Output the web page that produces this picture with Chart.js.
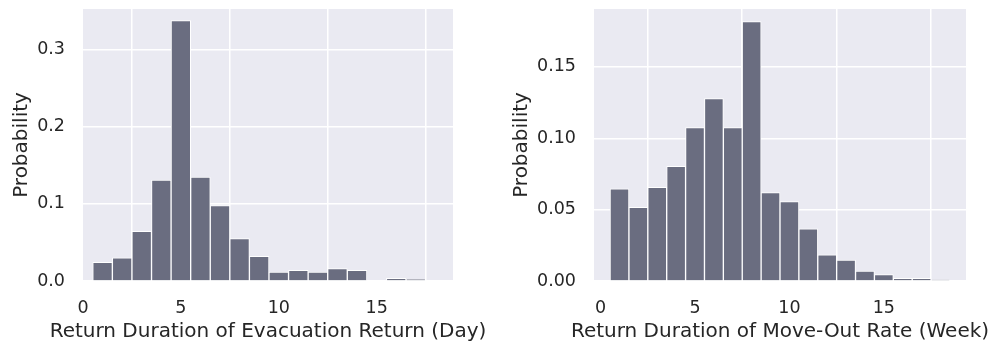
<!DOCTYPE html>
<html>
<head>
<meta charset="utf-8">
<script src="https://cdn.jsdelivr.net/npm/chart.js@4.4.1/dist/chart.umd.min.js"></script>
<style>
  html, body { margin: 0; padding: 0; background: #ffffff; }
  #wrap { position: relative; width: 995px; height: 345px; }
  canvas { position: absolute; top: 0; }
  #c1 { left: 0; }
  #c2 { left: 500px; }
</style>
</head>
<body>
<div id="wrap">
  <canvas id="c1" width="495" height="345"></canvas>
  <canvas id="c2" width="495" height="345"></canvas>
</div>
<script>
// Bin centres (width 1) and probabilities for each histogram
const evacDays = [1, 2, 3, 4, 5, 6, 7, 8, 9, 10, 11, 12, 13, 14, 15, 16, 17];
const evacProb = [0.0243, 0.0300, 0.0643, 0.1310, 0.3380, 0.1350, 0.0980, 0.0550, 0.0320, 0.0117, 0.0140, 0.0115, 0.0160, 0.0140, null, 0.0035, 0.0022];

const moveWeeks = [1, 2, 3, 4, 5, 6, 7, 8, 9, 10, 11, 12, 13, 14, 15, 16, 17, 18];
const moveProb = [0.0645, 0.0516, 0.0657, 0.0804, 0.1075, 0.1278, 0.1075, 0.1818, 0.0619, 0.0556, 0.0365, 0.0184, 0.0146, 0.0070, 0.0045, 0.0019, 0.0019, 0.0007];

const evacYTicks = [0.0, 0.1, 0.2, 0.3];
const moveYTicks = [0.00, 0.05, 0.10, 0.15];
const xTickStep = 5;

const FONT = 'DejaVu Sans';
const TEXT = '#262626';
const PANEL = '#eaeaf2';
const BAR = 'rgb(106,109,128)';
const TICK_SIZE = 17.5;
const TITLE_SIZE = 20;

const panelBg = {
  id: 'panelBg',
  beforeDraw(chart) {
    const a = chart.chartArea;
    const ctx = chart.ctx;
    ctx.save();
    ctx.fillStyle = PANEL;
    ctx.fillRect(a.left, a.top, a.right - a.left, a.bottom - a.top);
    ctx.restore();
  }
};

// x-axis caption, drawn at full width (may extend past the plot area)
const xCaption = {
  id: 'xCaption',
  afterDraw(chart, args, o) {
    const a = chart.chartArea;
    const ctx = chart.ctx;
    ctx.save();
    ctx.fillStyle = TEXT;
    ctx.font = TITLE_SIZE + 'px "' + FONT + '"';
    ctx.textAlign = 'center';
    ctx.textBaseline = 'alphabetic';
    ctx.fillText(o.text, (a.left + a.right) / 2, o.baseline);
    ctx.restore();
  }
};

function makeHist(canvasId, xs, ys, opts) {
  const points = xs.map((x, i) => ({ x: x, y: ys[i] }));
  return new Chart(document.getElementById(canvasId), {
    type: 'bar',
    data: {
      datasets: [{
        data: points,
        backgroundColor: BAR,
        borderColor: '#ffffff',
        borderWidth: 1,
        borderSkipped: 'start',
        barPercentage: 1,
        categoryPercentage: 1
      }]
    },
    options: {
      responsive: false,
      animation: false,
      events: [],
      layout: { padding: { top: 9, right: opts.padRight, left: 0, bottom: 0 } },
      plugins: {
        legend: { display: false },
        tooltip: { enabled: false },
        xCaption: { text: opts.xTitle, baseline: 337 }
      },
      scales: {
        x: {
          type: 'linear',
          min: opts.xMin,
          max: opts.xMax,
          offset: false,
          border: { display: false },
          grid: { color: '#ffffff', lineWidth: 1.5, drawTicks: false },
          ticks: {
            stepSize: xTickStep,
            includeBounds: false,
            padding: 17,
            color: TEXT,
            font: { family: FONT, size: TICK_SIZE },
            maxRotation: 0
          },
          afterFit(scale) {
            scale.height = 64;
            scale.paddingLeft = 0;
            scale.paddingRight = 0;
          }
        },
        y: {
          min: 0,
          max: opts.yMax,
          border: { display: false },
          grid: { color: '#ffffff', lineWidth: 1.5, drawTicks: false },
          afterBuildTicks(scale) {
            scale.ticks = opts.yTicks.map(v => ({ value: v }));
          },
          ticks: {
            padding: 18,
            color: TEXT,
            font: { family: FONT, size: TICK_SIZE },
            callback: v => v.toFixed(opts.yDigits)
          },
          title: {
            display: true,
            text: 'Probability',
            color: TEXT,
            font: { family: FONT, size: TITLE_SIZE },
            padding: { top: opts.yTitlePad, bottom: 0 }
          },
          afterFit(scale) {
            scale.width = opts.yAxisWidth;
            scale.paddingTop = 0;
            scale.paddingBottom = 0;
          }
        }
      }
    },
    plugins: [panelBg, xCaption]
  });
}

makeHist('c1', evacDays, evacProb, {
  xMin: 0, xMax: 18.9, yMax: 0.353, yTicks: evacYTicks, yDigits: 1,
  xTitle: 'Return Duration of Evacuation Return (Day)',
  padRight: 42, yAxisWidth: 83, yTitlePad: 10
});

makeHist('c2', moveWeeks, moveProb, {
  xMin: -0.35, xMax: 19.35, yMax: 0.1906, yTicks: moveYTicks, yDigits: 2,
  xTitle: 'Return Duration of Move-Out Rate (Week)',
  padRight: 29, yAxisWidth: 94, yTitlePad: 10
});
</script>
</body>
</html>
